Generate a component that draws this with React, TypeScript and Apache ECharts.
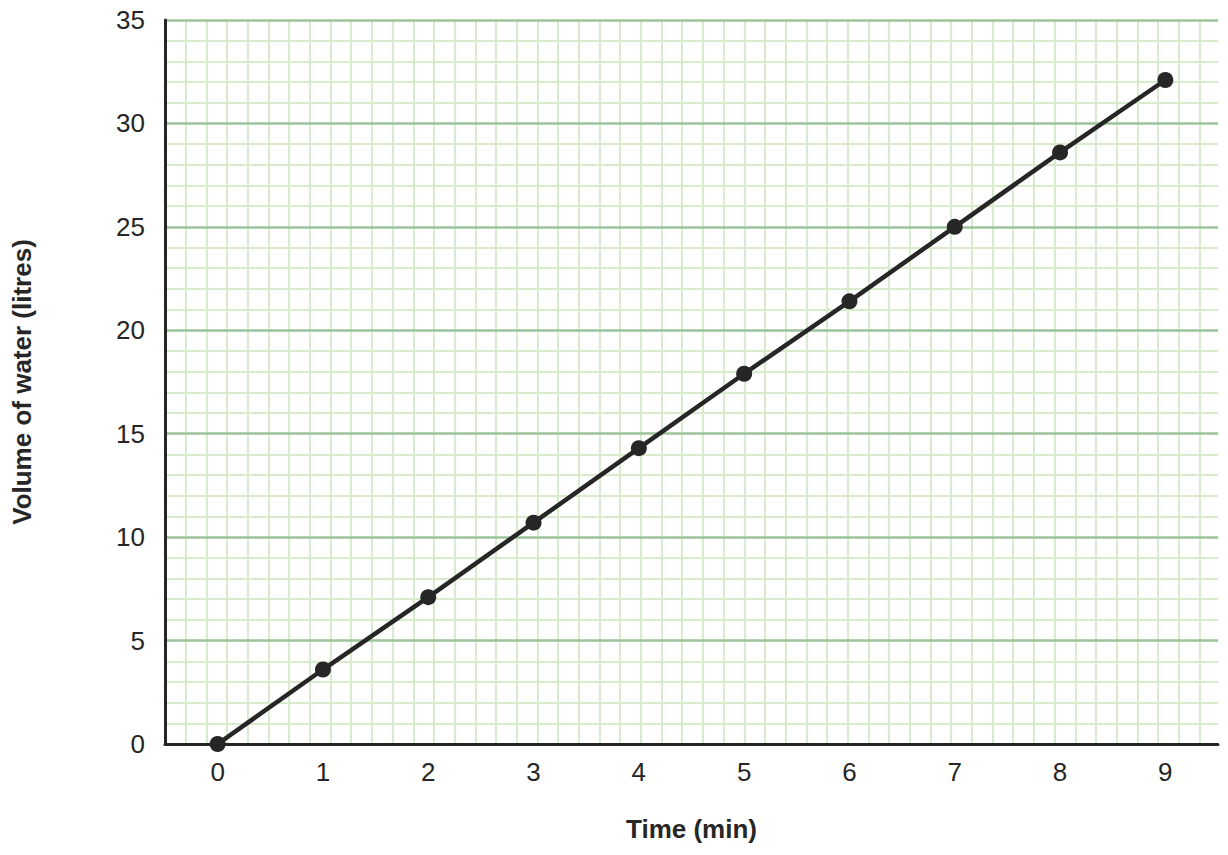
import React, { useEffect, useRef } from "react";
import * as echarts from "echarts";

const timeCategories = ["0", "1", "2", "3", "4", "5", "6", "7", "8", "9"];
const volumeValues = [0, 3.6, 7.1, 10.7, 14.3, 17.9, 21.4, 25.0, 28.6, 32.1];
const xTitle = "Time (min)";
const yTitle = "Volume of water (litres)";

export default function App() {
  const ref = useRef<HTMLDivElement>(null);
  useEffect(() => {
    document.body.style.margin = "0";
    const chart = echarts.init(ref.current!, null, { renderer: "svg" });
    const font = "Liberation Sans, Arial, sans-serif";
    chart.setOption({
      animation: false,
      backgroundColor: "#ffffff",
      grid: { left: 165, right: 10, top: 20, bottom: 111, containLabel: false },
      xAxis: [
        {
          type: "category",
          data: timeCategories,
          boundaryGap: true,
          z: 5,
          axisLine: { show: true, lineStyle: { color: "#262626", width: 3 } },
          axisTick: { show: false },
          splitLine: { show: false },
          axisLabel: { color: "#262626", fontSize: 26, fontFamily: font, margin: 15 },
          name: xTitle,
          nameLocation: "middle",
          nameGap: 72,
          nameTextStyle: { color: "#262626", fontSize: 26, fontWeight: "bold", fontFamily: font },
        },
        {
          type: "value",
          position: "bottom",
          min: 0,
          max: 50.9,
          interval: 1,
          z: 0,
          axisLine: { show: false },
          axisTick: { show: false },
          axisLabel: { show: false },
          splitLine: {
            show: true,
            showMinLine: false,
            showMaxLine: false,
            lineStyle: { color: "#d9ebcd", width: 2 },
          },
        },
      ],
      yAxis: [
        {
          type: "value",
          min: 0,
          max: 35,
          interval: 5,
          z: 4,
          axisLine: { show: true, lineStyle: { color: "#262626", width: 3 } },
          axisTick: { show: false },
          axisLabel: { color: "#262626", fontSize: 26, fontFamily: font, margin: 20 },
          splitLine: { show: true, lineStyle: { color: "#9cc49a", width: 2.5 } },
          minorTick: { show: false, splitNumber: 5 },
          minorSplitLine: { show: true, lineStyle: { color: "#d9ebcd", width: 2 } },
          name: yTitle,
          nameLocation: "middle",
          nameGap: 130,
          nameRotate: 90,
          nameTextStyle: { color: "#262626", fontSize: 26, fontWeight: "bold", fontFamily: font },
        },
      ],
      series: [
        {
          type: "line",
          xAxisIndex: 0,
          yAxisIndex: 0,
          data: volumeValues,
          z: 10,
          symbol: "circle",
          symbolSize: 16,
          lineStyle: { color: "#262626", width: 4.5 },
          itemStyle: { color: "#262626" },
        },
      ],
    });
    return () => chart.dispose();
  }, []);
  return <div ref={ref} style={{ width: 1228, height: 855 }} />;
}
